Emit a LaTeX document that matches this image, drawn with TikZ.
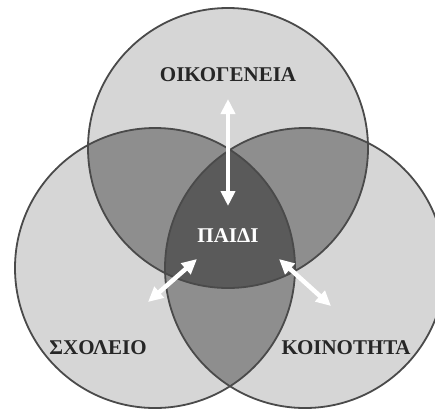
\documentclass[tikz,border=0pt]{standalone}
\usepackage{fontspec}
\setmainfont{Liberation Serif}
\usepackage{tikz}
\usetikzlibrary{arrows.meta,calc}
\definecolor{vlight}{HTML}{D6D6D6}
\definecolor{vmid}{HTML}{8E8E8E}
\definecolor{vdark}{HTML}{5A5A5A}
\definecolor{vline}{HTML}{4A4A4A}
\tikzset{
 lbl/.style={font=\bfseries\fontsize{21}{22}\selectfont, text=black!85},
 link/.style={white, line width=4.5pt, {Triangle[width=14pt,length=15pt]}-{Triangle[width=14pt,length=15pt]}}
}

\begin{document}
\begin{tikzpicture}[x=1pt,y=-1pt]
 \useasboundingbox (0,0) rectangle (435,408);
 \clip (0,0) rectangle (435,408);
 \coordinate (fam) at (228,148);
 \coordinate (sch) at (155,268);
 \coordinate (com) at (305,268);
 % single regions
 \foreach \c in {fam,sch,com} \fill[vlight] (\c) circle (140pt);
 % pairwise overlaps
 \begin{scope} \clip (fam) circle (140pt); \fill[vmid] (sch) circle (140pt); \fill[vmid] (com) circle (140pt); \end{scope}
 \begin{scope} \clip (sch) circle (140pt); \fill[vmid] (com) circle (140pt); \end{scope}
 % child in the middle
 \begin{scope} \clip (fam) circle (140pt); \clip (sch) circle (140pt); \fill[vdark] (com) circle (140pt); \end{scope}
 \foreach \c in {fam,sch,com} \draw[vline, line width=1.8pt] (\c) circle (140pt);
 \node[lbl] (oik) at (228,75) {ΟΙΚΟΓΕΝΕΙΑ};
 \node[lbl] (sxo) at (98,348) {ΣΧΟΛΕΙΟ};
 \node[lbl] (koi) at (346,348) {ΚΟΙΝΟΤΗΤΑ};
 \node[lbl, text=white] (paidi) at (228,236) {ΠΑΙΔΙ};
 \coordinate (a1) at (228,99);  \coordinate (a2) at (228,206);
 \coordinate (b1) at (148,302); \coordinate (b2) at (197,259);
 \coordinate (c1) at (279,259); \coordinate (c2) at (331,306);
 \draw[link] (a1) -- (a2);
 \draw[link] (b1) -- (b2);
 \draw[link] (c1) -- (c2);
\end{tikzpicture}
\end{document}
